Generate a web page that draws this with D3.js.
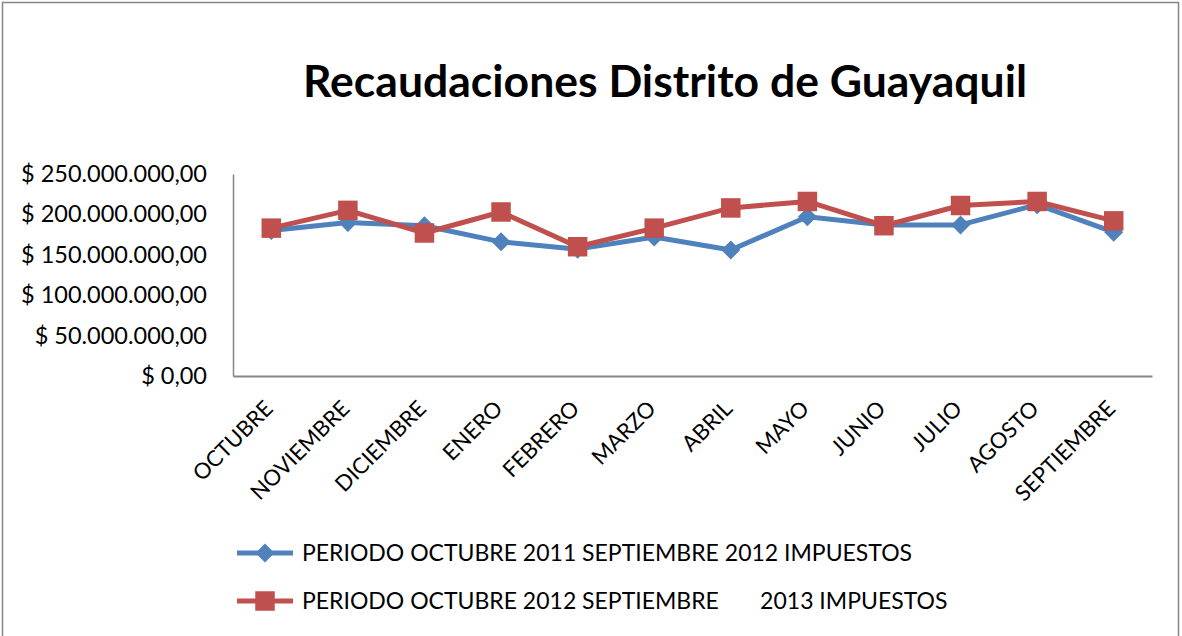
<!DOCTYPE html>
<html><head><meta charset="utf-8">
<script src="https://cdn.jsdelivr.net/npm/d3@7"></script>
<style>body{margin:0;background:#fff}svg{display:block}text{font-family:Lato,"Open Sans",sans-serif}</style>
</head><body><svg id="c" width="1182" height="636"></svg>
<script>
const categories = ["OCTUBRE","NOVIEMBRE","DICIEMBRE","ENERO","FEBRERO","MARZO","ABRIL","MAYO","JUNIO","JULIO","AGOSTO","SEPTIEMBRE"];
const serie2012 = [180e6,190e6,186e6,166e6,157e6,172e6,156e6,197e6,187e6,187e6,212e6,178e6];
const serie2013 = [183e6,205e6,177e6,203e6,160e6,183e6,208e6,216e6,186e6,211e6,216e6,192e6];
const yTicks = [0,50e6,100e6,150e6,200e6,250e6];
const seriesNames = ["PERIODO OCTUBRE 2011 SEPTIEMBRE 2012 IMPUESTOS","PERIODO OCTUBRE 2012 SEPTIEMBRE       2013 IMPUESTOS"];
const colors = ["#4F81BD","#C0504D"];

const svg = d3.select("#c");
svg.append("rect").attr("x",2.5).attr("y",2.5).attr("width",1176).attr("height",640).attr("fill","none").attr("stroke","#868686").attr("stroke-width",1.5);

const L=233,R=1152,T=174,B=376;
const x = d3.scaleBand().domain(categories).range([L,R]);
const y = d3.scaleLinear().domain([0,250e6]).range([B,T]);
const fmt = v => "$ " + (v===0 ? "0,00" : d3.format(",")(v).replace(/,/g,".") + ",00");

svg.append("text").attr("x",665).attr("y",97).attr("text-anchor","middle").attr("font-size",44.5).attr("font-weight","bold").text("Recaudaciones Distrito de Guayaquil");

const ya = svg.append("g").attr("transform",`translate(${L},0)`).call(d3.axisLeft(y).tickValues(yTicks).tickFormat(fmt).tickSize(0).tickPadding(26));
ya.select(".domain").attr("stroke","#868686").attr("stroke-width",1.5);
ya.selectAll("text").attr("font-size",23.5).attr("fill","#000").style("font-family","Lato");

const xa = svg.append("g").attr("transform",`translate(0,${B})`).call(d3.axisBottom(x).tickSize(0).tickPadding(0));
xa.select(".domain").attr("stroke","#868686").attr("stroke-width",2);
xa.selectAll("text").attr("font-size",22).attr("fill","#000").style("font-family","Lato")
  .attr("text-anchor","end").attr("dy",0).attr("transform","translate(3,34) rotate(-45)");

const data = [serie2012, serie2013];
const line = d3.line().x((d,i)=>x(categories[i])+x.bandwidth()/2).y(d=>y(d));
data.forEach((s,k)=>{
  svg.append("path").datum(s).attr("d",line).attr("fill","none").attr("stroke",colors[k]).attr("stroke-width",5).attr("stroke-linejoin","round");
});
const sym = [d3.symbol().type(d3.symbolDiamond2).size(230), d3.symbol().type(d3.symbolSquare).size(380)];
data.forEach((s,k)=>{
  svg.append("g").selectAll("path").data(s).join("path")
    .attr("d",sym[k]).attr("fill",colors[k])
    .attr("transform",(d,i)=>`translate(${x(categories[i])+x.bandwidth()/2},${y(d)})`);
});

// legend
seriesNames.forEach((n,k)=>{
  const ly = 553 + k*48;
  svg.append("line").attr("x1",237).attr("x2",293).attr("y1",ly).attr("y2",ly).attr("stroke",colors[k]).attr("stroke-width",5);
  svg.append("path").attr("d",sym[k]()).attr("fill",colors[k]).attr("transform",`translate(265,${ly})`);
  svg.append("text").attr("x",302).attr("y",ly+8).attr("font-size",23).style("white-space","pre").attr("xml:space","preserve").text(n);
});
</script></body></html>
